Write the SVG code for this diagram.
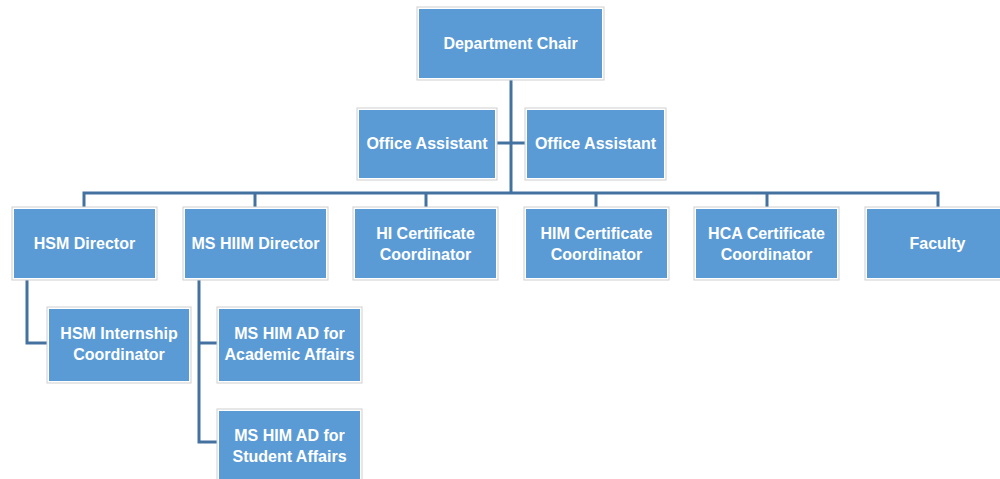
<svg xmlns="http://www.w3.org/2000/svg" width="1000" height="479" viewBox="0 0 1000 479">
<style>
.frame{fill:#ffffff;stroke:#cfcfcf;stroke-width:1}
.box{fill:#5b9bd5}
.lbl{font-family:"Liberation Sans",Arial,sans-serif;font-weight:bold;font-size:16px;fill:#ffffff;text-anchor:middle}
.conn{fill:none;stroke:#4472a0;stroke-width:3}
</style>
<rect width="1000" height="479" fill="#ffffff"/>
<g id="connectors">
<path class="conn" d="M511,80 V193"/>
<path class="conn" d="M497,143 H525"/>
<path class="conn" d="M84,207 V193 H938 V207"/>
<path class="conn" d="M255,193 V207 M426,193 V207 M596,193 V207 M767,193 V207"/>
<path class="conn" d="M27,280 V343 H47"/>
<path class="conn" d="M199,280 V442 H217 M199,343 H217"/>
</g>
<g id="chair"><rect class="frame" x="417" y="7" width="187" height="73"/><rect class="box" x="419" y="9" width="183" height="69"/><text class="lbl" x="510.5" y="49">Department Chair</text></g>
<g id="office1"><rect class="frame" x="357" y="108" width="140" height="72"/><rect class="box" x="359" y="110" width="136" height="68"/><text class="lbl" x="427" y="149">Office Assistant</text></g>
<g id="office2"><rect class="frame" x="525" y="108" width="141" height="72"/><rect class="box" x="527" y="110" width="137" height="68"/><text class="lbl" x="595.5" y="149">Office Assistant</text></g>
<g id="hsm"><rect class="frame" x="12" y="207" width="145" height="73"/><rect class="box" x="14" y="209" width="141" height="69"/><text class="lbl" x="84.5" y="249">HSM Director</text></g>
<g id="mshiim"><rect class="frame" x="183" y="207" width="145" height="73"/><rect class="box" x="185" y="209" width="141" height="69"/><text class="lbl" x="255.5" y="249">MS HIIM Director</text></g>
<g id="hi"><rect class="frame" x="353" y="207" width="145" height="73"/><rect class="box" x="355" y="209" width="141" height="69"/><text class="lbl" x="425.5" y="239">HI Certificate</text><text class="lbl" x="425.5" y="260">Coordinator</text></g>
<g id="him"><rect class="frame" x="524" y="207" width="145" height="73"/><rect class="box" x="526" y="209" width="141" height="69"/><text class="lbl" x="596.5" y="239">HIM Certificate</text><text class="lbl" x="596.5" y="260">Coordinator</text></g>
<g id="hca"><rect class="frame" x="694" y="207" width="145" height="73"/><rect class="box" x="696" y="209" width="141" height="69"/><text class="lbl" x="766.5" y="239">HCA Certificate</text><text class="lbl" x="766.5" y="260">Coordinator</text></g>
<g id="faculty"><rect class="frame" x="865" y="207" width="145" height="73"/><rect class="box" x="867" y="209" width="141" height="69"/><text class="lbl" x="937.5" y="249">Faculty</text></g>
<g id="hsmintern"><rect class="frame" x="47" y="307" width="144" height="76"/><rect class="box" x="49" y="309" width="140" height="72"/><text class="lbl" x="119" y="339">HSM Internship</text><text class="lbl" x="119" y="360">Coordinator</text></g>
<g id="academic"><rect class="frame" x="217" y="307" width="145" height="76"/><rect class="box" x="219" y="309" width="141" height="72"/><text class="lbl" x="289.5" y="339">MS HIM AD for</text><text class="lbl" x="289.5" y="360">Academic Affairs</text></g>
<g id="student"><rect class="frame" x="217" y="409" width="145" height="76"/><rect class="box" x="219" y="411" width="141" height="72"/><text class="lbl" x="289.5" y="441">MS HIM AD for</text><text class="lbl" x="289.5" y="462">Student Affairs</text></g>
</svg>
